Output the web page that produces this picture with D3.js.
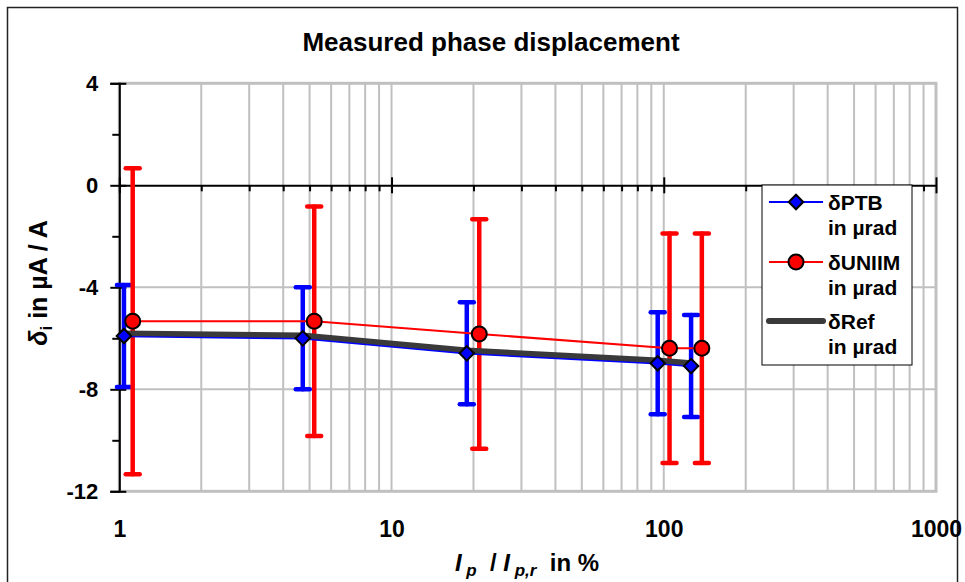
<!DOCTYPE html>
<html lang="en">
<head>
<meta charset="UTF-8">
<title>Measured phase displacement</title>
<script src="https://d3js.org/d3.v7.min.js"></script>
<style>
  body { margin: 0; background: #fff; }
  svg text { font-family: "Liberation Sans", Arial, sans-serif; font-weight: bold; fill: #000; }
</style>
</head>
<body>
<script>
// values
var ptbX = [1.04, 4.72, 18.9, 95, 126];
var ptbY = [-5.91, -6.0, -6.59, -6.98, -7.09];
var ptbU = [2, 2, 2, 2, 2];

var uniimX = [1.12, 5.2, 21, 105, 138];
var uniimY = [-5.33, -5.33, -5.83, -6.39, -6.39];
var uniimU = [6, 4.5, 4.5, 4.5, 4.5];

var refX = [1.04, 4.72, 18.9, 95, 126];
var refY = [-5.8, -5.88, -6.47, -6.86, -6.97];

var xTicks = [1, 10, 100, 1000];
var yTicks = [-12, -8, -4, 0, 4];
var yMinor = [-10, -6, -2, 2];
var legendNames = ["\u03b4PTB", "\u03b4UNIIM", "\u03b4Ref"];

var width = 965, height = 582;
var pL = 119.3, pR = 936, pT = 83.3, pB = 491.3;

var x = d3.scaleLog().domain([1, 1000]).range([pL, pR]);
var y = d3.scaleLinear().domain([-12, 4]).range([pB, pT]);

var minorX = [];
[1, 10, 100].forEach(function(d) {
  for (var k = 2; k <= 9; k++) minorX.push(d * k);
});

var svg = d3.select("body").append("svg")
  .attr("width", width)
  .attr("height", height);

svg.append("rect")
  .attr("x", 7.5).attr("y", 7.5)
  .attr("width", 950).attr("height", 600)
  .attr("fill", "#fff").attr("stroke", "#222").attr("stroke-width", 1.5);

svg.append("text")
  .attr("x", 491).attr("y", 51)
  .attr("text-anchor", "middle")
  .style("font-size", "26px")
  .text("Measured phase displacement");

// grid
var grid = svg.append("g").attr("stroke", "#c0c0c0").attr("stroke-width", 2);
grid.selectAll(".vx").data(minorX.concat([10, 100]))
  .enter().append("line")
  .attr("x1", d => x(d)).attr("x2", d => x(d))
  .attr("y1", pT).attr("y2", pB);
grid.selectAll(".hy").data([-8, -4])
  .enter().append("line")
  .attr("x1", pL).attr("x2", pR)
  .attr("y1", d => y(d)).attr("y2", d => y(d));
grid.append("rect")
  .attr("x", pL).attr("y", pT)
  .attr("width", pR - pL).attr("height", pB - pT)
  .attr("fill", "none").attr("stroke-width", 3);

// y axis
var yAxis = svg.append("g")
  .attr("transform", "translate(" + pL + ",0)")
  .call(d3.axisLeft(y).tickValues(yTicks).tickSize(9).tickPadding(12));
yAxis.selectAll(".tick line").attr("x2", -9).attr("x1", 7).attr("stroke-width", 2);
yAxis.select(".domain").attr("stroke-width", 2);
yAxis.selectAll("text").style("font-size", "22px").text(d => d < 0 ? "-" + Math.abs(d) : d);

var yAxis2 = svg.append("g")
  .attr("transform", "translate(" + pL + ",0)")
  .call(d3.axisLeft(y).tickValues(yMinor).tickSize(7).tickFormat(""));
yAxis2.select(".domain").remove();
yAxis2.selectAll(".tick line").attr("stroke-width", 2);

// x axis line at zero
var x0 = svg.append("g")
  .attr("transform", "translate(0," + y(0) + ")")
  .call(d3.axisBottom(x).tickValues(minorX).tickSize(6).tickSizeOuter(0).tickFormat(""));
x0.select(".domain").attr("stroke-width", 2);
x0.selectAll(".tick line").attr("stroke-width", 2);
var x0major = svg.append("g")
  .attr("transform", "translate(0," + y(0) + ")")
  .call(d3.axisBottom(x).tickValues(xTicks).tickSize(8).tickFormat(""));
x0major.select(".domain").remove();
x0major.selectAll(".tick line").attr("y1", -8).attr("stroke-width", 2);

// x labels at bottom
var xLab = svg.append("g")
  .attr("transform", "translate(0," + pB + ")")
  .call(d3.axisBottom(x).tickValues(xTicks).tickSize(0).tickPadding(29).tickFormat(d3.format("d")));
xLab.select(".domain").remove();
xLab.selectAll("text").style("font-size", "23px");

// axis titles
var yt = svg.append("text")
  .attr("transform", "translate(47,283) rotate(-90)")
  .attr("text-anchor", "middle")
  .attr("xml:space", "preserve")
  .style("white-space", "pre")
  .style("font-size", "25px");
yt.append("tspan").style("font-style", "italic").text("\u03b4");
yt.append("tspan").attr("dy", 5).style("font-size", "17px").text("i");
yt.append("tspan").attr("dy", -5).text(" in \u00b5A / A");

var xt = svg.append("text")
  .attr("x", 527).attr("y", 571)
  .attr("text-anchor", "middle")
  .attr("xml:space", "preserve")
  .style("white-space", "pre")
  .style("font-size", "24px");
xt.append("tspan").style("font-style", "italic").text("I");
xt.append("tspan").attr("dy", 5).style("font-size", "17px").style("font-style", "italic").text(" p");
xt.append("tspan").attr("dy", -5).text("  / ");
xt.append("tspan").style("font-style", "italic").text("I");
xt.append("tspan").attr("dy", 5).style("font-size", "17px").style("font-style", "italic").text(" p,r");
xt.append("tspan").attr("dy", -5).text("  in %");

// data
var ptb = ptbX.map((d, i) => ({x: d, y: ptbY[i], u: ptbU[i]}));
var uniim = uniimX.map((d, i) => ({x: d, y: uniimY[i], u: uniimU[i]}));
var ref = refX.map((d, i) => ({x: d, y: refY[i]}));

function errorBars(data, color, cls) {
  var g = svg.append("g").attr("stroke", color).attr("stroke-width", 4.5).attr("stroke-linecap", "round");
  g.selectAll("." + cls + "v").data(data).enter().append("line")
    .attr("x1", d => x(d.x)).attr("x2", d => x(d.x))
    .attr("y1", d => y(d.y + d.u)).attr("y2", d => y(d.y - d.u));
  g.selectAll("." + cls + "t").data(data).enter().append("line")
    .attr("x1", d => x(d.x) - 7).attr("x2", d => x(d.x) + 7)
    .attr("y1", d => y(d.y + d.u)).attr("y2", d => y(d.y + d.u));
  g.selectAll("." + cls + "b").data(data).enter().append("line")
    .attr("x1", d => x(d.x) - 7).attr("x2", d => x(d.x) + 7)
    .attr("y1", d => y(d.y - d.u)).attr("y2", d => y(d.y - d.u));
}
errorBars(ptb, "#0000ff", "p");
errorBars(uniim, "#ff0000", "u");

var line = d3.line().x(d => x(d.x)).y(d => y(d.y));
svg.append("path").attr("d", line(ptb)).attr("fill", "none").attr("stroke", "#0000ff").attr("stroke-width", 2.5);
svg.append("path").attr("d", line(uniim)).attr("fill", "none").attr("stroke", "#ff0000").attr("stroke-width", 2);
svg.append("path").attr("d", line(ref)).attr("fill", "none").attr("stroke", "#3a3a3a").attr("stroke-width", 5.5);

var diamond = d3.symbol().type(d3.symbolSquare).size(105);
svg.selectAll(".dia").data(ptb).enter().append("path")
  .attr("d", diamond)
  .attr("transform", d => "translate(" + x(d.x) + "," + y(d.y) + ") rotate(45)")
  .attr("fill", "#0000ff").attr("stroke", "#000").attr("stroke-width", 2);
svg.selectAll(".cir").data(uniim).enter().append("circle")
  .attr("cx", d => x(d.x)).attr("cy", d => y(d.y)).attr("r", 7.5)
  .attr("fill", "#ff0000").attr("stroke", "#000").attr("stroke-width", 2);

// legend
var lg = svg.append("g");
lg.append("rect").attr("x", 762).attr("y", 185).attr("width", 150).attr("height", 180)
  .attr("fill", "#fff").attr("stroke", "#000").attr("stroke-width", 1);
var ly = [202, 262, 321];
var lStroke = ["#0000ff", "#ff0000", "#3a3a3a"];
var lWidth = [2, 2, 6];
legendNames.forEach(function(name, i) {
  lg.append("line").attr("x1", 769).attr("x2", 823).attr("y1", ly[i]).attr("y2", ly[i])
    .attr("stroke", lStroke[i]).attr("stroke-width", lWidth[i]).attr("stroke-linecap", i == 2 ? "round" : "butt");
  if (i == 0) {
    lg.append("path").attr("d", diamond).attr("transform", "translate(796," + ly[i] + ") rotate(45)")
      .attr("fill", "#0000ff").attr("stroke", "#000").attr("stroke-width", 2);
  } else if (i == 1) {
    lg.append("circle").attr("cx", 796).attr("cy", ly[i]).attr("r", 7.5)
      .attr("fill", "#ff0000").attr("stroke", "#000").attr("stroke-width", 2);
  }
  lg.append("text").attr("x", 828).attr("y", ly[i] + 8).style("font-size", "21px").text(name);
  lg.append("text").attr("x", 828).attr("y", ly[i] + 33).style("font-size", "21px").text("in \u00b5rad");
});
</script>
</body>
</html>
